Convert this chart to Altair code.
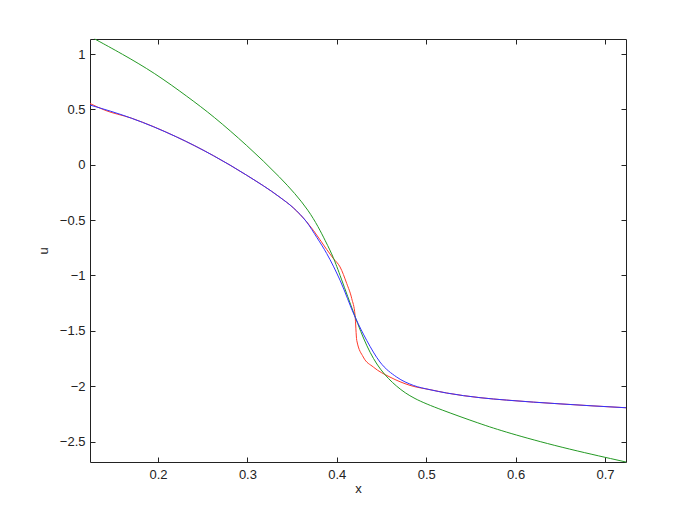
import altair as alt
import pandas as pd

# ---- data ----
blue_x = [0.1239, 0.17, 0.2205, 0.2619, 0.2992, 0.3365, 0.3513, 0.3663, 0.3775, 0.3887,
          0.4036, 0.4204, 0.4334, 0.4483, 0.4670, 0.4856, 0.5043, 0.5229, 0.5602, 0.5900,
          0.6497, 0.7235]
blue_u = [0.539, 0.421, 0.252, 0.082, -0.095, -0.295, -0.389, -0.518, -0.655, -0.802,
          -1.043, -1.375, -1.586, -1.782, -1.918, -1.993, -2.032, -2.062, -2.104, -2.126,
          -2.16, -2.195]

green_x = [0.1292, 0.1589, 0.1963, 0.2336, 0.2619, 0.2992, 0.3365, 0.3700, 0.3887, 0.3961,
           0.4036, 0.4204, 0.4334, 0.4483, 0.4670, 0.4856, 0.5154, 0.5602, 0.5900, 0.6497,
           0.7235]
green_u = [1.1355, 1.005, 0.829, 0.611, 0.439, 0.177, -0.109, -0.411, -0.712, -0.833,
           -0.998, -1.375, -1.646, -1.857, -2.008, -2.113, -2.21, -2.34, -2.418, -2.552,
           -2.685]

red_x = [0.1239, 0.14, 0.17, 0.2205, 0.2619, 0.2992, 0.3365, 0.3513, 0.3663, 0.3961,
         0.4036, 0.4111, 0.4167, 0.4204, 0.4223, 0.4296, 0.4408, 0.4595, 0.4819, 0.5043,
         0.5229, 0.5602, 0.5900, 0.6497, 0.7235]
red_u = [0.553, 0.494, 0.421, 0.252, 0.082, -0.095, -0.295, -0.389, -0.516, -0.847,
         -0.923, -1.073, -1.209, -1.360, -1.586, -1.737, -1.827, -1.918, -1.993, -2.032,
         -2.062, -2.104, -2.126, -2.16, -2.195]

x_ticks = [0.2, 0.3, 0.4, 0.5, 0.6, 0.7]
y_ticks = [1, 0.5, 0, -0.5, -1, -1.5, -2, -2.5]
x_domain = [0.1239, 0.7235]
y_domain = [-2.685, 1.1355]

red_df = pd.DataFrame({"x": red_x, "u": red_u, "o": range(len(red_x))})
green_df = pd.DataFrame({"x": green_x, "u": green_u, "o": range(len(green_x))})
blue_df = pd.DataFrame({"x": blue_x, "u": blue_u, "o": range(len(blue_x))})

FONT = "Liberation Sans"
xs = alt.Scale(domain=x_domain, nice=False, zero=False)
ys = alt.Scale(domain=y_domain, nice=False, zero=False)

common_axis = dict(grid=False, domain=False, ticks=True, tickSize=5, offset=-5,
                   tickColor="#222222", tickWidth=1, labelFont=FONT, labelFontSize=13,
                   labelColor="#222222", titleFont=FONT, titleFontSize=13,
                   titleFontWeight="normal", titleColor="#222222")

red = alt.Chart(red_df).mark_line(color="#ff3a2a", strokeWidth=1,
                                  interpolate="monotone").encode(
    x=alt.X("x:Q", scale=xs, axis=alt.Axis(orient="bottom", values=x_ticks, format=".1f",
                                           labelPadding=6, title="x", titlePadding=1,
                                           **common_axis)),
    y=alt.Y("u:Q", scale=ys, axis=alt.Axis(orient="left", values=y_ticks, format="",
                                           labelPadding=5, title="u", titlePadding=9,
                                           **common_axis)),
    order="o:Q",
)

green = alt.Chart(green_df).mark_line(color="#249a24", strokeWidth=1,
                                      interpolate="basis").encode(
    x=alt.X("x:Q", scale=xs, axis=alt.Axis(orient="top", values=x_ticks, labels=False,
                                           title=None, **common_axis)),
    y=alt.Y("u:Q", scale=ys, axis=alt.Axis(orient="right", values=y_ticks, labels=False,
                                           title=None, **common_axis)),
    order="o:Q",
)

blue = alt.Chart(blue_df).mark_line(color="#3333ff", strokeWidth=1,
                                    interpolate="monotone").encode(
    x=alt.X("x:Q", scale=xs, axis=None),
    y=alt.Y("u:Q", scale=ys, axis=None),
    order="o:Q",
)

chart = alt.layer(red, green, blue).resolve_axis(
    x="independent", y="independent"
).properties(
    width=536, height=423,
    autosize=alt.AutoSizeParams(type="none"),
    padding={"left": 82, "top": 31, "right": 58, "bottom": 50},
    background="white",
).configure_view(stroke="#222222", strokeWidth=1)

chart.save("out.html", embed_options={"renderer": "svg", "actions": False})
